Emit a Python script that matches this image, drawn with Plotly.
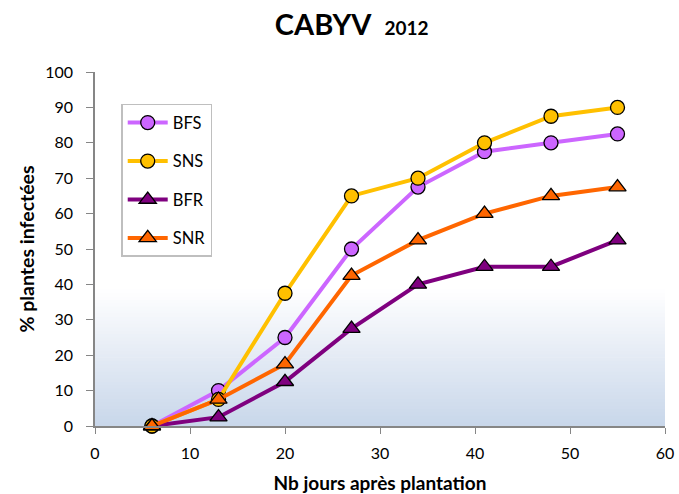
import plotly.graph_objects as go

days = [6, 13, 20, 27, 34, 41, 48, 55]
bfs = [0, 10, 25, 50, 67.5, 77.5, 80, 82.5]
sns = [0, 7.5, 37.5, 65, 70, 80, 87.5, 90]
bfr = [0, 2.5, 12.5, 27.5, 40, 45, 45, 52.5]
snr = [0, 7.5, 17.5, 42.5, 52.5, 60, 65, 67.5]

series = [
    ("BFS", bfs, "#cc66ff", "circle"),
    ("SNS", sns, "#ffc000", "circle"),
    ("BFR", bfr, "#7f007f", "triangle-up"),
    ("SNR", snr, "#ff6600", "triangle-up"),
]

FONT = "Lato, 'Open Sans', sans-serif"

fig = go.Figure()
for i, (name, vals, col, sym) in enumerate(series):
    fig.add_trace(go.Scatter(
        x=days, y=vals, name=name, mode="lines+markers",
        legendgroup=name,
        line=dict(color=col, width=4),
        marker=dict(symbol=sym, size=14 if sym == "circle" else 15, color=col,
                    line=dict(color="black", width=1.3)),
        cliponaxis=False,
    ))

# gradient background in lower part of plot area
n = 40
top = 0.385
c0 = (255, 255, 255)
c1 = (200, 214, 234)
shapes = []
for k in range(n):
    y0 = top * k / n
    y1 = top * (k + 1) / n
    t = 1 - (k + 0.5) / n
    c = tuple(int(round(c0[j] + (c1[j] - c0[j]) * t)) for j in range(3))
    shapes.append(dict(type="rect", xref="x domain", yref="y domain",
                       x0=0, x1=1, y0=y0, y1=y1 + 0.002, layer="below",
                       line=dict(width=0), fillcolor="rgb(%d,%d,%d)" % c))

fig.update_layout(
    width=679, height=494,
    margin=dict(l=95, r=14, t=72, b=68),
    paper_bgcolor="white", plot_bgcolor="white",
    font=dict(family=FONT, size=16, color="black"),
    title=dict(text="<b>CABYV&nbsp;&nbsp;<span style='font-size:19px'>2012</span></b>",
               x=0.518, xref="container", xanchor="center",
               y=0.95, yref="container", yanchor="middle",
               font=dict(size=29, family=FONT)),
    shapes=shapes,
    showlegend=True,
    legend=dict(x=0.046, y=0.91, xanchor="left", yanchor="top",
                bordercolor="#bfbfbf", borderwidth=1.5, bgcolor="white",
                font=dict(size=16.5, family=FONT), tracegroupgap=14,
                itemwidth=40),
    xaxis=dict(range=[0, 60], dtick=10, showgrid=False, zeroline=False,
               showline=True, linecolor="#868686", linewidth=1.5,
               ticks="outside", tickcolor="#868686", ticklen=6,
               tickfont=dict(size=16), ticklabelstandoff=6,
               automargin=False,
               title=dict(text="<b>Nb jours après plantation</b>",
                          font=dict(size=19), standoff=18)),
    yaxis=dict(range=[0, 100], dtick=10, showgrid=False, zeroline=False,
               showline=True, linecolor="#868686", linewidth=1.5,
               ticks="outside", tickcolor="#868686", ticklen=7,
               tickfont=dict(size=16), ticklabelstandoff=10,
               automargin=False,
               title=dict(text="<b>% plantes infectées</b>",
                          font=dict(size=19.5), standoff=5)),
)

fig.write_html("out.html", config={"displayModeBar": False},
               post_script="document.body.style.margin='0';")
